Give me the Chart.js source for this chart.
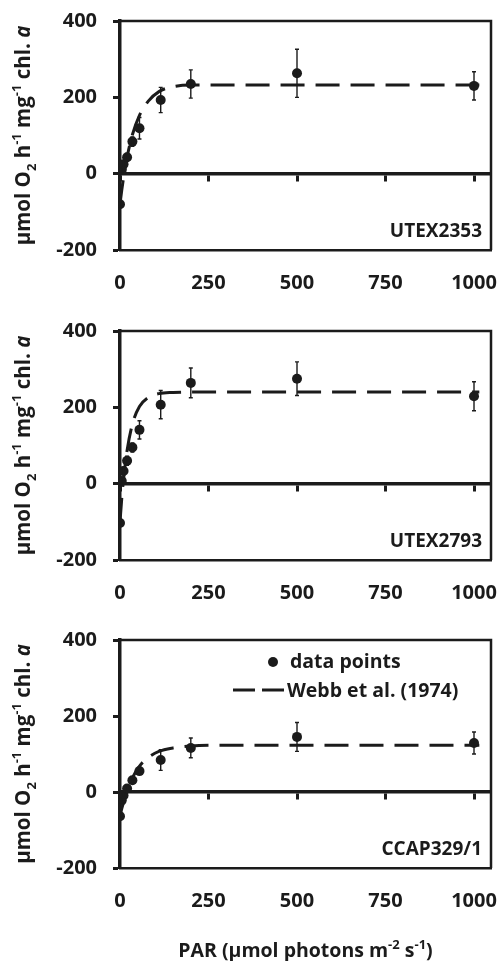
<!DOCTYPE html>
<html>
<head>
<meta charset="utf-8">
<script src="https://cdn.jsdelivr.net/npm/chart.js@4.4.0/dist/chart.umd.min.js"></script>
<style>
  body { margin: 0; background: #fff; width: 500px; height: 961px; position: relative; overflow: hidden; }
  canvas { position: absolute; left: 0; }
</style>
</head>
<body>
<canvas id="c1" style="top:0px" width="500" height="310"></canvas>
<canvas id="c2" style="top:310px" width="500" height="310"></canvas>
<canvas id="c3" style="top:619px" width="500" height="342"></canvas>
<script>
// PAR of the measured points
var parX = [0, 5, 10, 20, 35, 55, 115, 200, 500, 1000];

// oxygen evolution
var utex2353 = [-80, 10, 25, 43, 84, 119, 193, 235, 263, 230];
var utex2353Err = [6, 8, 8, 10, 12, 28, 33, 37, 63, 37];
var utex2793 = [-103, 7, 33, 60, 95, 141, 207, 264, 275, 229];
var utex2793Err = [6, 8, 10, 12, 12, 24, 37, 39, 44, 38];
var ccap329 = [-64, -22, -9, 9, 31, 55, 84, 116, 145, 129];
var ccap329Err = [5, 6, 6, 7, 8, 8, 27, 26, 38, 29];

// dashed fitted curves (Webb et al. 1974)
var fitX = [0, 5, 10, 20, 35, 55, 80, 110, 150, 200, 300, 500, 750, 1015];
var utex2353Fit = [-80, -43, -11, 43, 102, 153, 190, 215, 228, 232, 232, 232, 232, 232];
var utex2793Fit = [-100, -38, 12, 87, 156, 202, 226, 236, 239, 240, 240, 240, 240, 240];
var ccap329Fit = [-64, -44, -27, 3, 37, 68, 91, 107, 116, 121, 123, 123, 123, 123];

var tickX = [0, 250, 500, 750, 1000];
var tickY = [-200, 0, 200, 400];
var strains = ['UTEX2353', 'UTEX2793', 'CCAP329/1'];
var legendLabels = ['data points', 'Webb et al. (1974)'];

var ink = '#1b1b1b';
var FONT = '"Open Sans", sans-serif';

function fontFor(p, size) {
    var s = (p.sub || p.sup) ? Math.round(size * 0.65) : size;
    return (p.it ? 'italic ' : '') + 'bold ' + s + 'px ' + FONT;
}

// text with sub/superscripts, centred on the origin, baseline at 0
function drawRich(ctx, parts, size) {
    var w = 0;
    parts.forEach(function (p) {
        ctx.font = fontFor(p, size);
        p.w = ctx.measureText(p.t).width;
        w += p.w;
    });
    var x = -w / 2;
    ctx.textAlign = 'left';
    ctx.textBaseline = 'alphabetic';
    parts.forEach(function (p) {
        ctx.font = fontFor(p, size);
        var dy = p.sub ? size * 0.3 : (p.sup ? -size * 0.42 : 0);
        ctx.fillText(p.t, x, dy);
        x += p.w;
    });
}

var yTitle = [
    {t: 'μmol O'}, {t: '2', sub: 1}, {t: ' h'}, {t: '-1', sup: 1},
    {t: ' mg'}, {t: '-1', sup: 1}, {t: ' chl. '}, {t: 'a', it: 1}
];
var xTitle = [
    {t: 'PAR (μmol photons m'}, {t: '-2', sup: 1}, {t: ' s'}, {t: '-1', sup: 1}, {t: ')'}
];

var errorBars = {
    id: 'errorBars',
    afterDatasetsDraw: function (chart) {
        var ctx = chart.ctx, xs = chart.scales.x, ys = chart.scales.y;
        ctx.save();
        ctx.strokeStyle = ink;
        ctx.lineWidth = 1.4;
        chart.data.datasets.forEach(function (ds) {
            if (!ds.errors) return;
            ds.data.forEach(function (p, i) {
                var e = ds.errors[i];
                var px = xs.getPixelForValue(p.x);
                var top = ys.getPixelForValue(p.y + e);
                var bot = ys.getPixelForValue(p.y - e);
                ctx.beginPath();
                ctx.moveTo(px, top); ctx.lineTo(px, bot);
                ctx.moveTo(px - 2, top); ctx.lineTo(px + 2, top);
                ctx.moveTo(px - 2, bot); ctx.lineTo(px + 2, bot);
                ctx.stroke();
            });
        });
        ctx.restore();
    }
};

var decor = {
    id: 'decor',
    afterDraw: function (chart, args, opts) {
        var ctx = chart.ctx, a = chart.chartArea;
        ctx.save();
        // top and right of the frame
        ctx.strokeStyle = ink;
        ctx.lineWidth = 2.5;
        ctx.beginPath();
        ctx.moveTo(a.left, a.top); ctx.lineTo(a.right, a.top); ctx.lineTo(a.right, a.bottom);
        ctx.stroke();

        ctx.fillStyle = ink;
        ctx.font = 'bold 19px ' + FONT;
        ctx.textAlign = 'right';
        ctx.textBaseline = 'alphabetic';
        ctx.fillText(opts.strain, a.right - 9, a.bottom - 13);

        // y title
        ctx.save();
        ctx.translate(30, (a.top + a.bottom) / 2);
        ctx.rotate(-Math.PI / 2);
        drawRich(ctx, yTitle, 20.5);
        ctx.restore();

        if (opts.xTitle) {
            ctx.save();
            ctx.translate((a.left + a.right) / 2, 338);
            drawRich(ctx, xTitle, 19.5);
            ctx.restore();
        }

        if (opts.legend) {
            var lx = a.right - 218;
            ctx.font = 'bold 19.5px ' + FONT;
            ctx.beginPath();
            ctx.arc(lx, a.top + 22, 5, 0, Math.PI * 2);
            ctx.fill();
            ctx.textAlign = 'left';
            ctx.fillText(legendLabels[0], a.right - 201, a.top + 28);
            ctx.lineWidth = 3;
            ctx.setLineDash([22, 7]);
            ctx.beginPath();
            ctx.moveTo(a.right - 258, a.top + 50);
            ctx.lineTo(a.right - 207, a.top + 50);
            ctx.stroke();
            ctx.setLineDash([]);
            ctx.fillText(legendLabels[1], a.right - 204, a.top + 57);
        }
        ctx.restore();
    }
};

function setTicks(vals) {
    return function (scale) {
        scale.ticks = vals.map(function (v) { return {value: v}; });
    };
}

// keep the chart area exactly where the layout padding puts it
function noPad(s) {
    s.paddingLeft = 0; s.paddingRight = 0; s.paddingTop = 0; s.paddingBottom = 0;
}

function plain(v) { return String(v); }

function makeChart(id, values, errs, fit, strain, last) {
    var bottomSpace = last ? 93 : 60;
    return new Chart(document.getElementById(id), {
        type: 'scatter',
        data: {
            datasets: [
                {
                    label: legendLabels[1],
                    type: 'line',
                    data: fitX.map(function (x, i) { return {x: x, y: fit[i]}; }),
                    borderColor: ink,
                    borderWidth: 3,
                    borderDash: [24, 11],
                    pointRadius: 0,
                    fill: false,
                    cubicInterpolationMode: 'monotone',
                    order: 2
                },
                {
                    label: legendLabels[0],
                    data: parX.map(function (x, i) { return {x: x, y: values[i]}; }),
                    errors: errs,
                    pointRadius: 5,
                    backgroundColor: ink,
                    borderWidth: 0,
                    order: 1
                }
            ]
        },
        options: {
            responsive: false,
            animation: false,
            layout: { padding: { top: 21, right: 9, left: 0, bottom: 0 } },
            plugins: {
                legend: { display: false },
                tooltip: { enabled: false },
                decor: { strain: strain, legend: last, xTitle: last }
            },
            scales: {
                x: {
                    type: 'linear', min: 0, max: 1048, position: 'bottom',
                    afterBuildTicks: setTicks(tickX),
                    afterFit: function (s) { s.height = bottomSpace; noPad(s); },
                    grid: { display: false, drawTicks: false },
                    border: { display: true, width: 2.5, color: ink },
                    ticks: { color: ink, padding: 21, maxRotation: 0, callback: plain, font: { family: FONT, size: 20, weight: 'bold' } }
                },
                x0: {
                    type: 'linear', min: 0, max: 1048, position: { y: 0 },
                    afterBuildTicks: setTicks(tickX),
                    afterFit: noPad,
                    grid: { drawOnChartArea: false, tickLength: 6, tickWidth: 3, color: ink },
                    border: { width: 3.5, color: ink },
                    ticks: { display: false }
                },
                y: {
                    type: 'linear', min: -200, max: 400, position: 'left',
                    afterBuildTicks: setTicks(tickY),
                    afterFit: function (s) { s.width = 120; noPad(s); },
                    grid: { drawOnChartArea: false, tickLength: 7, tickWidth: 3, color: ink },
                    border: { width: 3.5, color: ink },
                    ticks: { color: ink, padding: 16, callback: plain, font: { family: FONT, size: 20, weight: 'bold' } }
                }
            }
        },
        plugins: [errorBars, decor]
    });
}

makeChart('c1', utex2353, utex2353Err, utex2353Fit, strains[0], false);
makeChart('c2', utex2793, utex2793Err, utex2793Fit, strains[1], false);
makeChart('c3', ccap329, ccap329Err, ccap329Fit, strains[2], true);
</script>
</body>
</html>
